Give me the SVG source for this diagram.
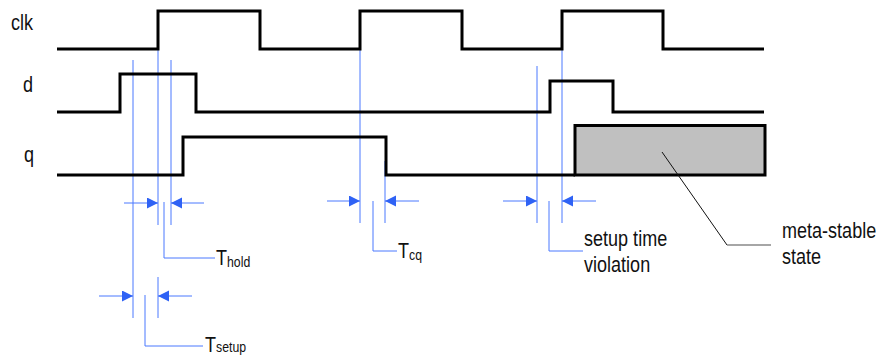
<svg xmlns="http://www.w3.org/2000/svg" width="881" height="357" viewBox="0 0 881 357">
<style>
.sig{fill:none;stroke:#000;stroke-width:3;stroke-linejoin:miter}
.bl{fill:none;stroke:#4a78ff;stroke-width:1}
.ar{fill:none;stroke:#4a78ff;stroke-width:1;marker-end:url(#ah)}
.t{font-family:"Liberation Sans",Arial,sans-serif;font-size:22px;fill:#111}
.s{font-size:15px}
</style>
<defs>
<marker id="ah" markerUnits="userSpaceOnUse" markerWidth="12" markerHeight="12" refX="11" refY="5.5" orient="auto">
<path d="M0,0 L11,5.5 L0,11 z" fill="#2f62f5"/>
</marker>
</defs>
<rect width="881" height="357" fill="#fff"/>
<g id="labels">
<text class="t" transform="translate(11,30) scale(0.82,1)">clk</text>
<text class="t" transform="translate(23,92) scale(0.82,1)">d</text>
<text class="t" transform="translate(24,162) scale(0.82,1)">q</text>
</g>
<g id="markers">
<path class="bl" d="M133,60 V318 M158,35 V225 M158,277 V318 M171,60 V225"/>
<path class="bl" d="M360,35 V223 M385,161 V223"/>
<path class="bl" d="M537,66 V223 M562,40 V223"/>
</g>
<g id="clk"><path class="sig" d="M57,49 H158 V11 H260 V49 H360 V11 H462 V49 H562 V11 H663 V49 H764"/></g>
<g id="d"><path class="sig" d="M57,112 H120 V74 H196 V112 H550 V81 H613 V112 H764"/></g>
<g id="q"><path class="sig" d="M57,175 H183 V137 H386 V175 H575"/>
<rect id="metastable" x="575" y="125.5" width="190" height="49.5" fill="#c0c0c0" stroke="#000" stroke-width="3"/></g>
<g id="connectors">
<path class="ar" d="M124,203 H158"/>
<path class="ar" d="M204,203 H171"/>
<path class="bl" d="M164,202 V258 H215"/>
<path class="ar" d="M99,296 H133"/>
<path class="ar" d="M192,296 H158"/>
<path class="bl" d="M145,295 V346 H203"/>
<path class="ar" d="M327,201 H360"/>
<path class="ar" d="M419,201 H385"/>
<path class="bl" d="M373,201 V251 H397"/>
<path class="ar" d="M503,201 H537"/>
<path class="ar" d="M596,201 H562"/>
<path class="bl" d="M549,201 V251 H583"/>
<path d="M662,152 L727,245" fill="none" stroke="#111" stroke-width="1"/>
<path d="M727,245 H771" fill="none" stroke="#888" stroke-width="1.5"/>
</g>
<g id="annotations">
<text class="t" transform="translate(216,265) scale(0.82,1)">T<tspan class="s" dy="2">hold</tspan></text>
<text class="t" transform="translate(205,352) scale(0.82,1)">T<tspan class="s" dy="0">setup</tspan></text>
<text class="t" transform="translate(398,258) scale(0.82,1)">T<tspan class="s" dy="2">cq</tspan></text>
<text class="t" transform="translate(584,246) scale(0.82,1)">setup time</text>
<text class="t" transform="translate(584,272) scale(0.82,1)">violation</text>
<text class="t" transform="translate(782,238) scale(0.82,1)">meta-stable</text>
<text class="t" transform="translate(782,264) scale(0.82,1)">state</text>
</g>
</svg>
